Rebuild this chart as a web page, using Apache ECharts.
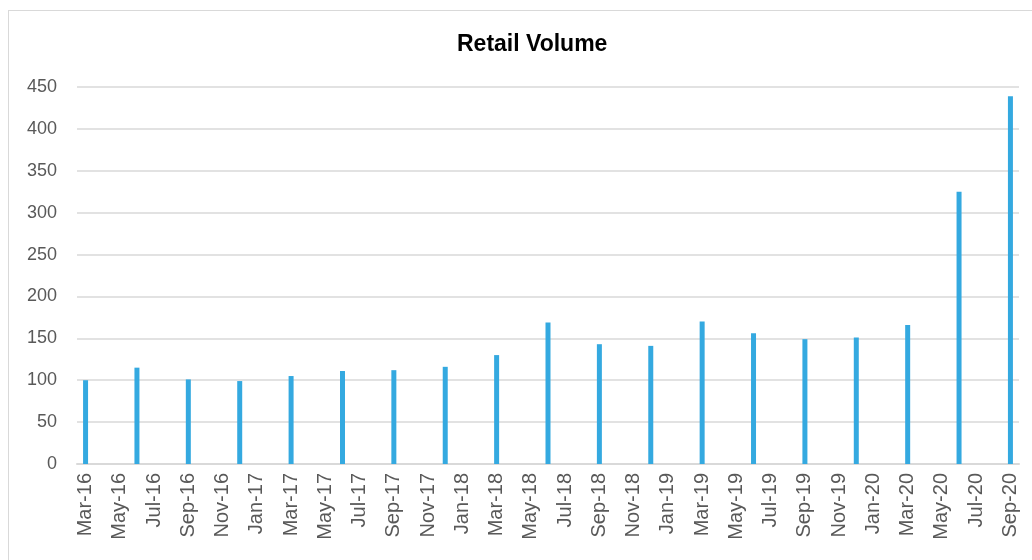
<!DOCTYPE html>
<html>
<head>
<meta charset="utf-8">
<script src="https://cdn.jsdelivr.net/npm/echarts@6/dist/echarts.min.js"></script>
<style>
  html, body { margin: 0; padding: 0; background: #ffffff; }
  #frame { position: absolute; left: 8px; top: 10px; width: 1030px; height: 560px; border: 1px solid #d9d9d9; box-sizing: border-box; }
  #chart { position: absolute; left: 0; top: 0; width: 1032px; height: 560px; }
</style>
</head>
<body>
<div id="frame"></div>
<div id="chart"></div>
<script>
const title = 'Retail Volume';
const months = [
  'Mar-16','Apr-16','May-16','Jun-16','Jul-16','Aug-16','Sep-16','Oct-16','Nov-16','Dec-16',
  'Jan-17','Feb-17','Mar-17','Apr-17','May-17','Jun-17','Jul-17','Aug-17','Sep-17','Oct-17','Nov-17','Dec-17',
  'Jan-18','Feb-18','Mar-18','Apr-18','May-18','Jun-18','Jul-18','Aug-18','Sep-18','Oct-18','Nov-18','Dec-18',
  'Jan-19','Feb-19','Mar-19','Apr-19','May-19','Jun-19','Jul-19','Aug-19','Sep-19','Oct-19','Nov-19','Dec-19',
  'Jan-20','Feb-20','Mar-20','Apr-20','May-20','Jun-20','Jul-20','Aug-20','Sep-20'
];
const quarterMonths = [
  'Mar-16','Jun-16','Sep-16','Dec-16','Mar-17','Jun-17','Sep-17','Dec-17',
  'Mar-18','Jun-18','Sep-18','Dec-18','Mar-19','Jun-19','Sep-19','Dec-19',
  'Mar-20','Jun-20','Sep-20'
];
const volume = [
  100, 115, 101, 99, 105, 111, 112, 116,
  130, 169, 143, 141, 170, 156, 149, 151,
  166, 325, 439
];
const yTicks = [0, 50, 100, 150, 200, 250, 300, 350, 400, 450];

const seriesData = quarterMonths.map((m, i) => [m, volume[i]]);

const chart = echarts.init(document.getElementById('chart'), null, { renderer: 'canvas' });
chart.setOption({
  animation: false,
  backgroundColor: 'transparent',
  title: {
    text: title,
    left: 457,
    top: 33,
    padding: 0,
    textStyle: { fontFamily: 'Liberation Sans, Arial, sans-serif', fontWeight: 'bold', fontSize: 23, color: '#000000' }
  },
  grid: { left: 77, right: 13, top: 87, bottom: 96, containLabel: false },
  xAxis: {
    type: 'category',
    data: months,
    boundaryGap: true,
    axisLine: { show: true, lineStyle: { color: '#d9d9d9', width: 2 } },
    axisTick: { show: false },
    axisLabel: {
      interval: 1,
      rotate: 90,
      margin: 9,
      fontFamily: 'Liberation Sans, Arial, sans-serif',
      fontSize: 20,
      color: '#595959'
    },
    splitLine: { show: false }
  },
  yAxis: {
    type: 'value',
    min: yTicks[0],
    max: yTicks[yTicks.length - 1],
    interval: 50,
    axisLine: { show: false },
    axisTick: { show: false },
    axisLabel: {
      margin: 20,
      fontFamily: 'Liberation Sans, Arial, sans-serif',
      fontSize: 18,
      color: '#595959'
    },
    splitLine: { show: true, lineStyle: { color: '#d9d9d9', width: 1.5 } }
  },
  series: [{
    type: 'bar',
    data: seriesData,
    barWidth: 5,
    itemStyle: { color: '#34a9e0' }
  }]
});
</script>
</body>
</html>
